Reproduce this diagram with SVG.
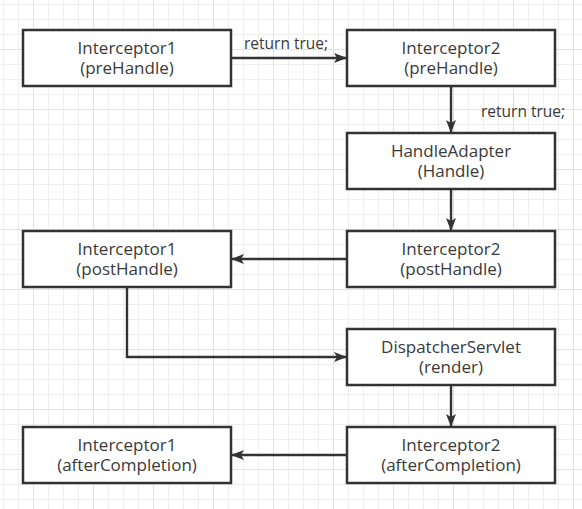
<svg xmlns="http://www.w3.org/2000/svg" width="582" height="509" viewBox="0 0 582 509">
  <defs>
    <pattern id="minor" patternUnits="userSpaceOnUse" x="3" y="4" width="15" height="15">
      <path d="M0.5,0 V15 M0,0.5 H15" fill="none" stroke="#efefef" stroke-width="1"/>
    </pattern>
    <pattern id="major" patternUnits="userSpaceOnUse" x="33" y="49" width="60" height="60">
      <path d="M0.5,0 V60 M0,0.5 H60" fill="none" stroke="#e2e2e2" stroke-width="1"/>
    </pattern>
    <marker id="arrow" markerUnits="userSpaceOnUse" markerWidth="14" markerHeight="11" refX="13" refY="5.5" orient="auto">
      <path d="M0,0.5 L13,5.5 L0,10.5 L3,5.5 Z" fill="#333333"/>
    </marker>
  </defs>
  <style>
    .box { fill: #ffffff; stroke: #333333; stroke-width: 2.5; }
    .lbl { font-family: "Open Sans", "Noto Sans", "Liberation Sans", sans-serif; font-size: 17px; fill: #3a3a3a; text-anchor: middle; }
    .edge { fill: none; stroke: #333333; stroke-width: 2.4; marker-end: url(#arrow); }
    .elbl { font-family: "Open Sans", "Noto Sans", "Liberation Sans", sans-serif; font-size: 15.5px; fill: #3a3a3a; }
  </style>
  <rect width="582" height="509" fill="#ffffff"/>
  <rect width="582" height="509" fill="url(#minor)"/>
  <rect width="582" height="509" fill="url(#major)"/>

  <g id="connectors">
    <path class="edge" d="M231,58 H347"/>
    <path class="edge" d="M451,86 V133"/>
    <path class="edge" d="M451,189 V231"/>
    <path class="edge" d="M347,259 H231"/>
    <path class="edge" d="M127,287 V357 H347"/>
    <path class="edge" d="M451,385 V427"/>
    <path class="edge" d="M347,455 H231"/>
    <text class="elbl" x="244" y="49">return true;</text>
    <text class="elbl" x="481" y="117">return true;</text>
  </g>

  <g id="i1-pre">
    <rect class="box" x="23" y="30" width="208" height="56"/>
    <text class="lbl" x="127" y="53.5">Interceptor1</text>
    <text class="lbl" x="127" y="74">(preHandle)</text>
  </g>
  <g id="i2-pre">
    <rect class="box" x="347" y="30" width="208" height="56"/>
    <text class="lbl" x="451" y="53.5">Interceptor2</text>
    <text class="lbl" x="451" y="74">(preHandle)</text>
  </g>
  <g id="adapter">
    <rect class="box" x="347" y="133" width="208" height="56"/>
    <text class="lbl" x="451" y="156.5">HandleAdapter</text>
    <text class="lbl" x="451" y="177">(Handle)</text>
  </g>
  <g id="i2-post">
    <rect class="box" x="347" y="231" width="208" height="56"/>
    <text class="lbl" x="451" y="254.5">Interceptor2</text>
    <text class="lbl" x="451" y="275">(postHandle)</text>
  </g>
  <g id="i1-post">
    <rect class="box" x="23" y="231" width="208" height="56"/>
    <text class="lbl" x="127" y="254.5">Interceptor1</text>
    <text class="lbl" x="127" y="275">(postHandle)</text>
  </g>
  <g id="dispatcher">
    <rect class="box" x="347" y="329" width="208" height="56"/>
    <text class="lbl" x="451" y="352.5">DispatcherServlet</text>
    <text class="lbl" x="451" y="373">(render)</text>
  </g>
  <g id="i2-after">
    <rect class="box" x="347" y="427" width="208" height="56"/>
    <text class="lbl" x="451" y="450.5">Interceptor2</text>
    <text class="lbl" x="451" y="471">(afterCompletion)</text>
  </g>
  <g id="i1-after">
    <rect class="box" x="23" y="427" width="208" height="56"/>
    <text class="lbl" x="127" y="450.5">Interceptor1</text>
    <text class="lbl" x="127" y="471">(afterCompletion)</text>
  </g>
</svg>
